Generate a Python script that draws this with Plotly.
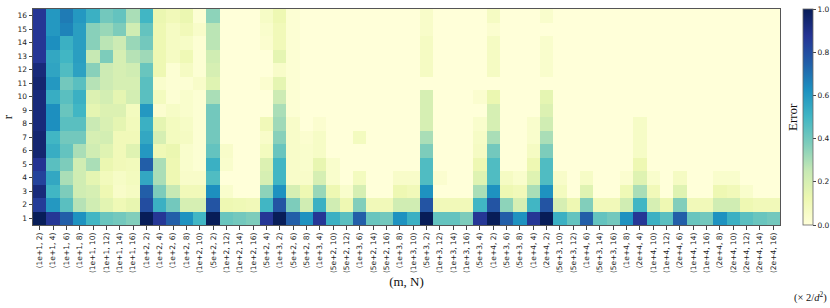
import numpy as np
import plotly.graph_objects as go

# x categories (m, N)
x_labels = [
    "(1e+1, 2)", "(1e+1, 4)", "(1e+1, 6)", "(1e+1, 8)", "(1e+1, 10)", "(1e+1, 12)", "(1e+1, 14)", "(1e+1, 16)",
    "(1e+2, 2)", "(1e+2, 4)", "(1e+2, 6)", "(1e+2, 8)", "(1e+2, 10)", "(5e+2, 2)", "(1e+2, 12)", "(1e+2, 14)",
    "(1e+2, 16)", "(5e+2, 4)", "(1e+3, 2)", "(5e+2, 6)", "(5e+2, 8)", "(1e+3, 4)", "(5e+2, 10)", "(5e+2, 12)",
    "(1e+3, 6)", "(5e+2, 14)", "(5e+2, 16)", "(1e+3, 8)", "(1e+3, 10)", "(5e+3, 2)", "(1e+3, 12)", "(1e+3, 14)",
    "(1e+3, 16)", "(5e+3, 4)", "(1e+4, 2)", "(5e+3, 6)", "(5e+3, 8)", "(1e+4, 4)", "(2e+4, 2)", "(5e+3, 10)",
    "(5e+3, 12)", "(1e+4, 6)", "(5e+3, 14)", "(5e+3, 16)", "(1e+4, 8)", "(2e+4, 4)", "(1e+4, 10)", "(1e+4, 12)",
    "(2e+4, 6)", "(1e+4, 14)", "(1e+4, 16)", "(2e+4, 8)", "(2e+4, 10)", "(2e+4, 12)", "(2e+4, 14)", "(2e+4, 16)",
]

# r values (rows)
r_values = list(range(1, 17))

# Error per column, listed for r = 1 .. 16
error_cols = [
    [1.0, 0.85, 0.93, 0.83, 0.88, 0.95, 0.95, 0.93, 0.93, 0.93, 0.95, 0.93, 0.87, 0.87, 0.87, 0.87],
    [0.87, 0.6, 0.5, 0.55, 0.45, 0.53, 0.5, 0.63, 0.63, 0.53, 0.6, 0.56, 0.55, 0.63, 0.6, 0.6],
    [0.75, 0.45, 0.38, 0.3, 0.38, 0.43, 0.4, 0.45, 0.42, 0.45, 0.4, 0.47, 0.5, 0.52, 0.66, 0.68],
    [0.62, 0.28, 0.22, 0.22, 0.22, 0.3, 0.4, 0.45, 0.5, 0.52, 0.45, 0.57, 0.58, 0.58, 0.58, 0.6],
    [0.5, 0.22, 0.2, 0.15, 0.3, 0.22, 0.2, 0.24, 0.15, 0.18, 0.28, 0.36, 0.25, 0.36, 0.36, 0.52],
    [0.42, 0.16, 0.12, 0.09, 0.13, 0.17, 0.21, 0.19, 0.18, 0.21, 0.23, 0.23, 0.38, 0.27, 0.33, 0.4],
    [0.4, 0.11, 0.05, 0.06, 0.1, 0.1, 0.1, 0.15, 0.18, 0.15, 0.2, 0.2, 0.2, 0.23, 0.38, 0.43],
    [0.37, 0.14, 0.07, 0.08, 0.09, 0.17, 0.1, 0.09, 0.08, 0.21, 0.2, 0.22, 0.28, 0.33, 0.22, 0.3],
    [1.0, 0.8, 0.75, 0.55, 0.75, 0.6, 0.55, 0.52, 0.6, 0.45, 0.45, 0.42, 0.32, 0.4, 0.43, 0.5],
    [0.87, 0.52, 0.38, 0.3, 0.3, 0.11, 0.2, 0.15, 0.03, 0.08, 0.04, 0.12, 0.12, 0.12, 0.12, 0.13],
    [0.75, 0.4, 0.25, 0.12, 0.12, 0.13, 0.08, 0.08, 0.06, 0.02, 0.02, 0.02, 0.07, 0.07, 0.07, 0.1],
    [0.62, 0.2, 0.1, 0.05, 0.04, 0.04, 0.07, 0.06, 0.04, 0.04, 0.02, 0.07, 0.11, 0.06, 0.1, 0.13],
    [0.5, 0.2, 0.1, 0.05, 0.02, 0.02, 0.02, 0.02, 0.02, 0.02, 0.05, 0.02, 0.02, 0.02, 0.05, 0.02],
    [1.0, 0.78, 0.63, 0.47, 0.52, 0.43, 0.4, 0.4, 0.4, 0.3, 0.17, 0.2, 0.22, 0.27, 0.27, 0.35],
    [0.42, 0.12, 0.04, 0.0, 0.04, 0.05, 0.0, 0.0, 0.0, 0.0, 0.0, 0.0, 0.0, 0.0, 0.0, 0.0],
    [0.4, 0.11, 0.0, 0.0, 0.0, 0.0, 0.0, 0.0, 0.0, 0.0, 0.0, 0.0, 0.0, 0.0, 0.0, 0.0],
    [0.38, 0.1, 0.0, 0.0, 0.0, 0.0, 0.0, 0.0, 0.0, 0.0, 0.0, 0.0, 0.0, 0.0, 0.0, 0.0],
    [0.87, 0.5, 0.35, 0.2, 0.18, 0.08, 0.05, 0.1, 0.0, 0.0, 0.03, 0.0, 0.0, 0.03, 0.04, 0.06],
    [1.0, 0.78, 0.62, 0.5, 0.5, 0.42, 0.36, 0.32, 0.3, 0.23, 0.15, 0.05, 0.15, 0.1, 0.1, 0.12],
    [0.75, 0.38, 0.2, 0.05, 0.05, 0.05, 0.05, 0.05, 0.02, 0.02, 0.02, 0.02, 0.02, 0.02, 0.02, 0.02],
    [0.62, 0.22, 0.12, 0.05, 0.04, 0.04, 0.03, 0.0, 0.0, 0.0, 0.0, 0.0, 0.0, 0.0, 0.0, 0.0],
    [0.87, 0.52, 0.33, 0.2, 0.14, 0.06, 0.06, 0.03, 0.0, 0.0, 0.0, 0.0, 0.0, 0.0, 0.0, 0.0],
    [0.52, 0.22, 0.12, 0.04, 0.04, 0.0, 0.0, 0.0, 0.0, 0.0, 0.0, 0.0, 0.0, 0.0, 0.0, 0.0],
    [0.45, 0.12, 0.04, 0.0, 0.0, 0.0, 0.0, 0.0, 0.0, 0.0, 0.0, 0.0, 0.0, 0.0, 0.0, 0.0],
    [0.75, 0.37, 0.2, 0.08, 0.0, 0.0, 0.08, 0.0, 0.0, 0.0, 0.0, 0.0, 0.0, 0.0, 0.0, 0.0],
    [0.42, 0.1, 0.0, 0.0, 0.0, 0.0, 0.0, 0.0, 0.0, 0.0, 0.0, 0.0, 0.0, 0.0, 0.0, 0.0],
    [0.4, 0.1, 0.0, 0.0, 0.0, 0.0, 0.0, 0.0, 0.0, 0.0, 0.0, 0.0, 0.0, 0.0, 0.0, 0.0],
    [0.62, 0.22, 0.12, 0.05, 0.0, 0.0, 0.0, 0.0, 0.0, 0.0, 0.0, 0.0, 0.0, 0.0, 0.0, 0.0],
    [0.52, 0.22, 0.1, 0.05, 0.0, 0.0, 0.0, 0.0, 0.0, 0.0, 0.0, 0.0, 0.0, 0.0, 0.0, 0.0],
    [1.0, 0.78, 0.62, 0.47, 0.47, 0.38, 0.3, 0.2, 0.2, 0.2, 0.0, 0.07, 0.07, 0.07, 0.05, 0.05],
    [0.43, 0.1, 0.0, 0.03, 0.0, 0.0, 0.0, 0.0, 0.0, 0.0, 0.0, 0.0, 0.0, 0.0, 0.0, 0.0],
    [0.43, 0.1, 0.0, 0.0, 0.0, 0.0, 0.0, 0.0, 0.0, 0.0, 0.0, 0.0, 0.0, 0.0, 0.0, 0.0],
    [0.38, 0.1, 0.0, 0.0, 0.0, 0.0, 0.0, 0.0, 0.0, 0.0, 0.0, 0.0, 0.0, 0.0, 0.0, 0.0],
    [0.87, 0.5, 0.3, 0.17, 0.12, 0.07, 0.06, 0.04, 0.0, 0.03, 0.0, 0.0, 0.0, 0.0, 0.0, 0.0],
    [1.0, 0.78, 0.62, 0.47, 0.47, 0.4, 0.3, 0.2, 0.2, 0.13, 0.0, 0.07, 0.07, 0.07, 0.03, 0.07],
    [0.75, 0.35, 0.12, 0.07, 0.0, 0.0, 0.0, 0.0, 0.0, 0.0, 0.0, 0.0, 0.0, 0.0, 0.0, 0.0],
    [0.62, 0.2, 0.1, 0.04, 0.0, 0.0, 0.0, 0.0, 0.0, 0.0, 0.0, 0.0, 0.0, 0.0, 0.0, 0.0],
    [0.87, 0.5, 0.3, 0.17, 0.12, 0.07, 0.04, 0.04, 0.0, 0.0, 0.0, 0.0, 0.0, 0.0, 0.0, 0.0],
    [1.0, 0.78, 0.62, 0.47, 0.47, 0.38, 0.3, 0.22, 0.18, 0.15, 0.0, 0.04, 0.04, 0.04, 0.0, 0.04],
    [0.52, 0.2, 0.08, 0.05, 0.0, 0.0, 0.0, 0.0, 0.0, 0.0, 0.0, 0.0, 0.0, 0.0, 0.0, 0.0],
    [0.43, 0.12, 0.0, 0.0, 0.0, 0.0, 0.0, 0.0, 0.0, 0.0, 0.0, 0.0, 0.0, 0.0, 0.0, 0.0],
    [0.75, 0.37, 0.17, 0.06, 0.0, 0.0, 0.0, 0.0, 0.0, 0.0, 0.0, 0.0, 0.0, 0.0, 0.0, 0.0],
    [0.43, 0.1, 0.0, 0.0, 0.0, 0.0, 0.0, 0.0, 0.0, 0.0, 0.0, 0.0, 0.0, 0.0, 0.0, 0.0],
    [0.4, 0.1, 0.0, 0.0, 0.0, 0.0, 0.0, 0.0, 0.0, 0.0, 0.0, 0.0, 0.0, 0.0, 0.0, 0.0],
    [0.62, 0.22, 0.11, 0.03, 0.0, 0.0, 0.0, 0.0, 0.0, 0.0, 0.0, 0.0, 0.0, 0.0, 0.0, 0.0],
    [0.87, 0.5, 0.3, 0.17, 0.12, 0.06, 0.06, 0.06, 0.0, 0.0, 0.0, 0.0, 0.0, 0.0, 0.0, 0.0],
    [0.52, 0.2, 0.1, 0.04, 0.0, 0.0, 0.0, 0.0, 0.0, 0.0, 0.0, 0.0, 0.0, 0.0, 0.0, 0.0],
    [0.45, 0.12, 0.0, 0.0, 0.0, 0.0, 0.0, 0.0, 0.0, 0.0, 0.0, 0.0, 0.0, 0.0, 0.0, 0.0],
    [0.75, 0.37, 0.17, 0.07, 0.0, 0.0, 0.0, 0.0, 0.0, 0.0, 0.0, 0.0, 0.0, 0.0, 0.0, 0.0],
    [0.42, 0.1, 0.0, 0.0, 0.0, 0.0, 0.0, 0.0, 0.0, 0.0, 0.0, 0.0, 0.0, 0.0, 0.0, 0.0],
    [0.4, 0.1, 0.0, 0.0, 0.0, 0.0, 0.0, 0.0, 0.0, 0.0, 0.0, 0.0, 0.0, 0.0, 0.0, 0.0],
    [0.62, 0.22, 0.12, 0.04, 0.0, 0.0, 0.0, 0.0, 0.0, 0.0, 0.0, 0.0, 0.0, 0.0, 0.0, 0.0],
    [0.52, 0.22, 0.1, 0.04, 0.0, 0.0, 0.0, 0.0, 0.0, 0.0, 0.0, 0.0, 0.0, 0.0, 0.0, 0.0],
    [0.45, 0.12, 0.04, 0.0, 0.0, 0.0, 0.0, 0.0, 0.0, 0.0, 0.0, 0.0, 0.0, 0.0, 0.0, 0.0],
    [0.42, 0.1, 0.0, 0.0, 0.0, 0.0, 0.0, 0.0, 0.0, 0.0, 0.0, 0.0, 0.0, 0.0, 0.0, 0.0],
    [0.4, 0.1, 0.0, 0.0, 0.0, 0.0, 0.0, 0.0, 0.0, 0.0, 0.0, 0.0, 0.0, 0.0, 0.0, 0.0],
]

colorbar_ticks = [0.0, 0.2, 0.4, 0.6, 0.8, 1.0]

ylgnbu = [
    [0.0, "#ffffd9"], [0.125, "#edf8b1"], [0.25, "#c7e9b4"], [0.375, "#7fcdbb"],
    [0.5, "#41b6c4"], [0.625, "#1d91c0"], [0.75, "#225ea8"], [0.875, "#253494"],
    [1.0, "#081d58"],
]

z = np.array(error_cols).T  # rows = r, cols = (m, N)

tick_font = dict(family="DejaVu Sans", size=7.5, color="#222")
serif = "Liberation Serif, Times New Roman, serif"

W, H = 830, 308
# plot-area edges in window pixels
PL, PR, PT, PB = 33, 780, 9, 225
PW, PH = PR - PL, PB - PT


def px_x(xw):
    return (xw - PL) / PW


def px_y(yw):
    return (PB - yw) / PH


fig = go.Figure(
    go.Heatmap(
        z=z,
        x=x_labels,
        y=r_values,
        zmin=0,
        zmax=1,
        colorscale=ylgnbu,
        colorbar=dict(
            x=px_x(803),
            xanchor="left",
            xpad=0,
            ypad=0,
            y=0.5,
            yanchor="middle",
            len=1.0,
            lenmode="fraction",
            thickness=10,
            outlinewidth=0.8,
            outlinecolor="#666",
            tickvals=colorbar_ticks,
            ticktext=[f"{v:.1f}" for v in colorbar_ticks],
            ticks="outside",
            ticklen=3,
            tickcolor="#444",
            tickfont=tick_font,
            title=dict(text=""),
        ),
        hovertemplate="%{x}<br>r=%{y}<br>Error=%{z}<extra></extra>",
    )
)

fig.update_layout(
    width=W,
    height=H,
    margin=dict(l=PL, r=W - PR, t=PT, b=H - PB, autoexpand=False),
    paper_bgcolor="white",
    plot_bgcolor="white",
    xaxis=dict(
        type="category",
        range=[-0.5, len(x_labels) - 0.5],
        tickangle=-90,
        tickfont=tick_font,
        ticks="outside",
        ticklen=3.5,
        tickcolor="#444",
        showline=True,
        linecolor="#555",
        linewidth=1,
        mirror=True,
        showgrid=False,
        zeroline=False,
        automargin=False,
        title=dict(text="(m, N)", font=dict(family=serif, size=13, color="#111"), standoff=4),
    ),
    yaxis=dict(
        range=[0.5, 16.5],
        tickvals=r_values,
        ticktext=[str(v) for v in r_values],
        tickfont=tick_font,
        ticks="outside",
        ticklen=3.5,
        tickcolor="#444",
        showline=True,
        linecolor="#555",
        linewidth=1,
        mirror=True,
        showgrid=False,
        zeroline=False,
        automargin=False,
        title=dict(text="r", font=dict(family=serif, size=13, color="#111"), standoff=4),
    ),
    annotations=[
        dict(
            text="Error",
            xref="paper", yref="paper",
            x=px_x(792), y=0.5,
            xanchor="center", yanchor="middle",
            textangle=-90,
            showarrow=False,
            font=dict(family=serif, size=13, color="#111"),
        ),
        dict(
            text="(× 2/<i>d</i><sup>2</sup>)",
            xref="paper", yref="paper",
            x=px_x(810), y=px_y(297),
            xanchor="center", yanchor="middle",
            showarrow=False,
            font=dict(family=serif, size=10.5, color="#111"),
        ),
    ],
)

fig.write_html(
    "out.html",
    config={"displayModeBar": False},
    post_script="document.body.style.margin='0';document.body.style.overflow='hidden';",
)
